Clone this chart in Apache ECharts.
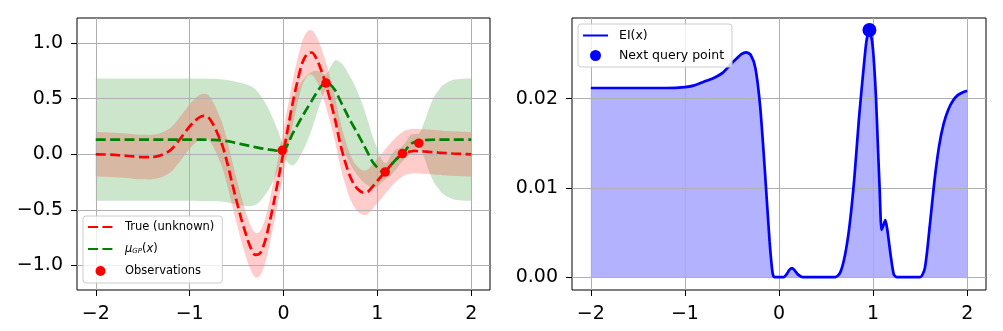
<!DOCTYPE html>
<html><head><meta charset="utf-8">
<script src="https://cdn.jsdelivr.net/npm/echarts@6/dist/echarts.min.js"></script>
<style>html,body{margin:0;padding:0;background:#fff}#c{width:1003px;height:331px}</style>
</head><body><div id="c"></div>
<script>
// ---------- Left panel: GP regression ----------
const xsL = [-2.0,-1.9,-1.8,-1.7,-1.6,-1.5,-1.4,-1.3,-1.2,-1.1,-1.0,
  -0.95,-0.9,-0.85,-0.8,-0.75,-0.7,-0.65,-0.6,-0.55,-0.5,-0.45,-0.4,-0.35,-0.3,-0.25,-0.2,-0.15,-0.1,-0.05,0.0,
  0.05,0.1,0.15,0.2,0.25,0.3,0.35,0.4,0.45,0.5,0.55,0.6,0.65,0.7,0.75,0.8,0.85,0.9,0.95,1.0,1.05,1.1,1.15,1.2,1.25,1.3,1.35,1.4,1.45,1.5,1.55,1.6,1.65,1.7,
  1.8,1.9,2.0];
const trueY = [0.000,-0.002,-0.006,-0.012,-0.019,-0.025,-0.025,-0.006,0.040,0.140,0.250,
  0.295,0.330,0.345,0.330,0.270,0.180,0.075,-0.075,-0.250,-0.420,-0.580,-0.720,-0.840,-0.905,-0.890,-0.790,-0.620,-0.420,-0.200,0.020,
  0.250,0.470,0.660,0.820,0.900,0.915,0.860,0.760,0.630,0.480,0.310,0.110,-0.050,-0.180,-0.270,-0.320,-0.345,-0.335,-0.290,-0.240,-0.190,-0.140,-0.090,-0.045,-0.010,0.015,0.025,0.030,0.028,0.025,0.022,0.019,0.015,0.012,
  0.007,0.003,0.000];
const trueHi = [0.200,0.198,0.194,0.188,0.181,0.175,0.175,0.194,0.240,0.340,0.450,
  0.495,0.530,0.545,0.530,0.470,0.380,0.275,0.125,-0.050,-0.220,-0.380,-0.520,-0.640,-0.705,-0.690,-0.590,-0.420,-0.220,0.000,0.220,
  0.450,0.670,0.860,1.020,1.100,1.115,1.060,0.960,0.830,0.680,0.510,0.310,0.150,0.020,-0.070,-0.120,-0.145,-0.135,-0.090,-0.040,0.010,0.060,0.110,0.155,0.190,0.215,0.225,0.230,0.228,0.225,0.222,0.219,0.215,0.212,
  0.207,0.203,0.200];
const trueLo = [-0.200,-0.202,-0.206,-0.212,-0.219,-0.225,-0.225,-0.206,-0.160,-0.060,0.050,
  0.095,0.130,0.145,0.130,0.070,-0.020,-0.125,-0.275,-0.450,-0.620,-0.780,-0.920,-1.040,-1.105,-1.090,-0.990,-0.820,-0.620,-0.400,-0.180,
  0.050,0.270,0.460,0.620,0.700,0.715,0.660,0.560,0.430,0.280,0.110,-0.090,-0.250,-0.380,-0.470,-0.520,-0.545,-0.535,-0.490,-0.440,-0.390,-0.340,-0.290,-0.245,-0.210,-0.185,-0.175,-0.170,-0.172,-0.175,-0.178,-0.181,-0.185,-0.188,
  -0.193,-0.197,-0.200];
const muY = [0.132,0.132,0.132,0.132,0.132,0.132,0.132,0.132,0.132,0.132,0.132,
  0.132,0.131,0.131,0.130,0.129,0.127,0.123,0.118,0.110,0.100,0.091,0.082,0.073,0.064,0.056,0.049,0.042,0.036,0.031,0.032,
  0.100,0.190,0.265,0.340,0.410,0.480,0.550,0.610,0.645,0.625,0.575,0.490,0.405,0.320,0.245,0.170,0.090,0.010,-0.070,-0.120,-0.152,-0.145,-0.093,-0.045,-0.008,0.035,0.090,0.112,0.124,0.128,0.130,0.131,0.132,0.132,
  0.132,0.132,0.132];
const gpHi = [0.682,0.682,0.682,0.682,0.682,0.682,0.682,0.682,0.682,0.682,0.682,
  0.682,0.681,0.681,0.680,0.679,0.677,0.673,0.668,0.660,0.650,0.641,0.630,0.613,0.584,0.536,0.469,0.392,0.296,0.191,0.102,
  0.280,0.480,0.585,0.660,0.710,0.740,0.750,0.740,0.715,0.785,0.845,0.830,0.785,0.710,0.635,0.540,0.430,0.300,0.160,0.050,-0.052,-0.075,-0.003,0.045,0.062,0.105,0.170,0.182,0.194,0.288,0.410,0.511,0.572,0.622,
  0.667,0.680,0.682];
const gpLo = [-0.418,-0.418,-0.418,-0.418,-0.418,-0.418,-0.418,-0.418,-0.418,-0.418,-0.418,
  -0.418,-0.419,-0.419,-0.420,-0.421,-0.423,-0.427,-0.432,-0.440,-0.450,-0.459,-0.466,-0.467,-0.456,-0.424,-0.371,-0.308,-0.224,-0.129,-0.038,
  -0.080,-0.100,-0.055,0.020,0.110,0.220,0.350,0.480,0.575,0.465,0.305,0.150,0.025,-0.070,-0.145,-0.200,-0.250,-0.280,-0.300,-0.290,-0.252,-0.215,-0.183,-0.135,-0.078,-0.035,0.010,0.042,0.054,-0.032,-0.150,-0.249,-0.308,-0.358,
  -0.403,-0.416,-0.418];
const obsX = [-0.013, 0.453, 1.083, 1.267, 1.442];
const obsY = [0.036, 0.640, -0.159, 0.006, 0.100];
const xTicksL = [-2, -1, 0, 1, 2];
const yTicksL = [-1.0, -0.5, 0.0, 0.5, 1.0];

// ---------- Right panel: Expected Improvement ----------
const xsR = [-2.0,-1.8,-1.6,-1.4,-1.2,-1.0,-0.9,-0.8,-0.7,-0.6,-0.5,-0.45,-0.4,-0.35,-0.3,-0.25,-0.2,-0.15,-0.1,-0.07,-0.05,
  0.0,0.05,0.08,0.11,0.14,0.17,0.2,0.25,0.3,0.4,0.5,0.6,0.65,0.7,0.75,0.8,0.85,0.9,0.93,0.96,0.99,1.01,1.03,1.05,1.07,1.09,
  1.11,1.13,1.15,1.17,1.19,1.22,1.25,1.3,1.4,1.5,1.55,1.6,1.65,1.7,1.75,1.8,1.85,1.9,1.95,2.0];
const eiY = [0.0212,0.0212,0.0212,0.0212,0.0212,0.0213,0.0215,0.0219,0.0223,0.0229,0.0240,0.0245,0.0250,0.0252,0.0249,0.0234,0.0191,0.0119,0.0040,0.0006,0.0000,
  0.0000,0.0000,0.0003,0.0008,0.0010,0.0007,0.0003,0.0000,0.0000,0.0000,0.0000,0.0000,0.0005,0.0024,0.0058,0.0110,0.0178,0.0235,0.0265,0.0277,0.0264,0.0240,0.0203,0.0150,0.0098,0.0053,
  0.0058,0.0064,0.0054,0.0038,0.0022,0.0003,0.0000,0.0000,0.0000,0.0000,0.0010,0.0055,0.0106,0.0146,0.0172,0.0188,0.0198,0.0204,0.0207,0.0209];
const nextX = [0.961];
const nextY = [0.0277];
const xTicksR = [-2, -1, 0, 1, 2];
const yTicksR = [0.00, 0.01, 0.02];

// ---------- build ----------
const FONT = 'DejaVu Sans';
const zip = (xs, ys) => xs.map((x, i) => [x, ys[i]]);
const minus = s => s.replace('-', '\u2212');

function xAxisOf(grid, ticks) {
  return {
    gridIndex: grid, type: 'value', min: -2.2, max: 2.2, splitNumber: 4, z: 3,
    axisLine: {show: false, onZero: false},
    axisTick: {show: true, length: 6, customValues: ticks, lineStyle: {color: '#000', width: 1}},
    axisLabel: {customValues: ticks, color: '#000', fontFamily: FONT, fontSize: 19, margin: 15,
      formatter: v => minus(String(Math.round(v)))},
    splitLine: {show: true, lineStyle: {color: '#b0b0b0', width: 1}}
  };
}
function yAxisOf(grid, ticks, min, max, split, dec) {
  return {
    gridIndex: grid, type: 'value', min: min, max: max, splitNumber: split, z: 3,
    axisLine: {show: false, onZero: false},
    axisTick: {show: true, length: 6, customValues: ticks, lineStyle: {color: '#000', width: 1}},
    axisLabel: {customValues: ticks, color: '#000', fontFamily: FONT, fontSize: 19, margin: 14,
      formatter: v => minus(v.toFixed(dec))},
    splitLine: {show: true, lineStyle: {color: '#b0b0b0', width: 1}}
  };
}

// Catmull-Rom path through screen points
function crPath(p) {
  let d = '';
  for (let i = 0; i < p.length - 1; i++) {
    const p0 = p[i - 1] || p[i], p1 = p[i], p2 = p[i + 1], p3 = p[i + 2] || p[i + 1];
    const c1 = [p1[0] + (p2[0] - p0[0]) / 6, p1[1] + (p2[1] - p0[1]) / 6];
    const c2 = [p2[0] - (p3[0] - p1[0]) / 6, p2[1] - (p3[1] - p1[1]) / 6];
    d += 'C' + c1[0].toFixed(2) + ',' + c1[1].toFixed(2) + ' ' + c2[0].toFixed(2) + ',' + c2[1].toFixed(2) + ' ' + p2[0].toFixed(2) + ',' + p2[1].toFixed(2);
  }
  return d;
}
function bandSeries(name, xs, lo, hi, color) {
  return {
    name: name, type: 'custom', xAxisIndex: 0, yAxisIndex: 0, z: 2, silent: true, clip: true,
    data: [[xs[0], lo[0]]],
    renderItem: function (params, api) {
      const top = xs.map((x, i) => api.coord([x, hi[i]]));
      const bot = xs.map((x, i) => api.coord([x, lo[i]])).reverse();
      const d = 'M' + top[0][0] + ',' + top[0][1] + crPath(top) +
        'L' + bot[0][0] + ',' + bot[0][1] + crPath(bot) + 'Z';
      return {type: 'path', shape: {pathData: d}, style: {fill: color, stroke: null}};
    }
  };
}

const series = [
  bandSeries('gpBand', xsL, gpLo, gpHi, 'rgba(0,128,0,0.2)'),
  bandSeries('trueBand', xsL, trueLo, trueHi, 'rgba(255,0,0,0.2)'),
  {name: 'True (unknown)', type: 'line', xAxisIndex: 0, yAxisIndex: 0, data: zip(xsL, trueY),
    symbol: 'none', smooth: 0.3, z: 5, lineStyle: {color: '#ff0000', width: 2.7, type: [10, 4.4]},
    itemStyle: {color: '#ff0000', opacity: 0}},
  {name: 'mu', type: 'line', xAxisIndex: 0, yAxisIndex: 0, data: zip(xsL, muY),
    symbol: 'none', smooth: 0.3, z: 5, lineStyle: {color: '#008000', width: 2.7, type: [10, 4.4]},
    itemStyle: {color: '#008000', opacity: 0}},
  {name: 'Observations', type: 'scatter', xAxisIndex: 0, yAxisIndex: 0, data: zip(obsX, obsY),
    symbol: 'circle', symbolSize: 9.5, z: 6, itemStyle: {color: '#ff0000', opacity: 1}},
  {name: 'eiArea', type: 'line', xAxisIndex: 1, yAxisIndex: 1, data: zip(xsR, eiY),
    symbol: 'none', smooth: 0.25, z: 2, silent: true, lineStyle: {width: 0, opacity: 0},
    areaStyle: {color: 'rgba(0,0,255,0.3)', opacity: 1}},
  {name: 'EI(x)', type: 'line', xAxisIndex: 1, yAxisIndex: 1, data: zip(xsR, eiY),
    symbol: 'none', smooth: 0.25, z: 5, lineStyle: {color: '#0000ff', width: 2.7},
    itemStyle: {color: '#0000ff', opacity: 0}},
  {name: 'Next query point', type: 'scatter', xAxisIndex: 1, yAxisIndex: 1, data: zip(nextX, nextY),
    symbol: 'circle', symbolSize: 14, z: 6, itemStyle: {color: '#0000ff', opacity: 1}}
];

const legendBox = {
  orient: 'vertical', backgroundColor: 'rgba(255,255,255,0.8)', borderColor: '#cccccc',
  borderWidth: 1, borderRadius: 3, itemWidth: 25, z: 10, selectedMode: false
};
const lineItem = n => ({name: n, itemStyle: {opacity: 0}});

const option = {
  animation: false,
  backgroundColor: '#ffffff',
  textStyle: {fontFamily: FONT},
  grid: [
    {left: 77, top: 18, width: 413, height: 272, show: true, borderColor: '#000', borderWidth: 1, backgroundColor: 'transparent'},
    {left: 572, top: 18, width: 414, height: 272, show: true, borderColor: '#000', borderWidth: 1, backgroundColor: 'transparent'}
  ],
  xAxis: [xAxisOf(0, xTicksL), xAxisOf(1, xTicksR)],
  yAxis: [yAxisOf(0, yTicksL, -1.22, 1.225, 5, 1), yAxisOf(1, yTicksR, -0.00145, 0.02905, 3, 2)],
  legend: [
    Object.assign({}, legendBox, {
      left: 83, top: 216, padding: [5, 8, 6, 4], itemGap: 10, itemHeight: 10,
      data: [lineItem('True (unknown)'), lineItem('mu'), {name: 'Observations'}],
      formatter: n => n === 'mu' ? '{m|\u03bc}{s|GP}{p|(}{m|x}{p|)}' : n,
      textStyle: {fontFamily: FONT, fontSize: 11.5, color: '#000', padding: [0, 0, 0, 7],
        rich: {
          m: {fontFamily: FONT, fontSize: 11.5, fontStyle: 'italic', color: '#000'},
          p: {fontFamily: FONT, fontSize: 11.5, color: '#000'},
          s: {fontFamily: FONT, fontSize: 7, fontStyle: 'italic', color: '#000', verticalAlign: 'bottom', lineHeight: 10}
        }}
    }),
    Object.assign({}, legendBox, {
      left: 578, top: 24, padding: [5, 8, 5, 4], itemGap: 7, itemHeight: 11,
      data: [lineItem('EI(x)'), {name: 'Next query point'}],
      textStyle: {fontFamily: FONT, fontSize: 12.5, color: '#000', padding: [0, 0, 0, 6]}
    })
  ],
  series: series
};

const chart = echarts.init(document.getElementById('c'), null, {renderer: 'canvas'});
chart.setOption(option);
</script>
</body></html>
